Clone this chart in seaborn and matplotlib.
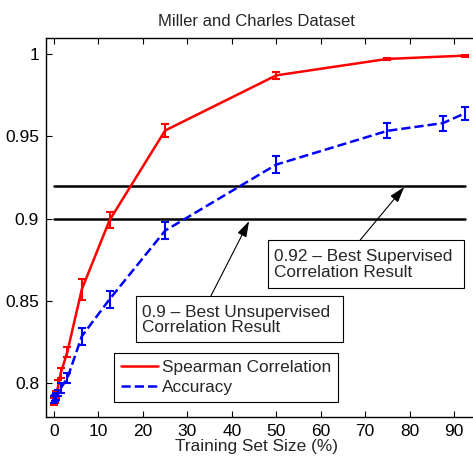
import numpy as np
import pandas as pd
import matplotlib
matplotlib.use("Agg")
import matplotlib.pyplot as plt
import seaborn as sns
from matplotlib.patches import Rectangle

# --- data ---
spear_x = [0, 0.25, 0.5, 1, 1.5, 3, 6.25, 12.5, 25, 50, 75, 92.5]
spear_y = [0.789, 0.790, 0.793, 0.799, 0.806, 0.819, 0.857, 0.899, 0.9535, 0.987, 0.997, 0.999]
spear_err = [0.002, 0.002, 0.002, 0.003, 0.003, 0.003, 0.0065, 0.005, 0.0038, 0.0022, 0.0008, 0.0006]

acc_x = [0, 0.25, 0.5, 1, 1.5, 3, 6.25, 12.5, 25, 50, 75, 87.5, 92.5]
acc_y = [0.790, 0.791, 0.792, 0.794, 0.797, 0.803, 0.8285, 0.851, 0.8927, 0.9328, 0.9533, 0.958, 0.964]
acc_err = [0.002, 0.002, 0.002, 0.002, 0.003, 0.003, 0.005, 0.005, 0.005, 0.0053, 0.0045, 0.0045, 0.004]

best_unsup = 0.90
best_sup = 0.92
ref_x_range = [0, 92.5]

x_ticks = [0, 10, 20, 30, 40, 50, 60, 70, 80, 90]
y_ticks = [0.8, 0.85, 0.9, 0.95, 1.0]
y_tick_labels = ["0.8", "0.85", "0.9", "0.95", "1"]

spear_df = pd.DataFrame({"size": spear_x, "val": spear_y})
acc_df = pd.DataFrame({"size": acc_x, "val": acc_y})

sns.set_theme(style="white")
plt.rcParams['font.family'] = ['Liberation Sans', 'DejaVu Sans']

fig = plt.figure(figsize=(4.73, 4.58), dpi=100)
ax = fig.add_axes([46 / 473, 41 / 458, 430 / 473, 379 / 458])

# lines
sns.lineplot(data=spear_df, x="size", y="val", ax=ax, color="red", lw=1.8,
             label="Spearman Correlation", errorbar=None, zorder=3)
sns.lineplot(data=acc_df, x="size", y="val", ax=ax, color="blue", lw=1.8,
             linestyle="--", dashes=(3.8, 2.2), label="Accuracy", errorbar=None, zorder=3)

# error bars
ax.errorbar(spear_x, spear_y, yerr=spear_err, fmt="none", ecolor="red",
            elinewidth=1.5, capsize=3, capthick=1.5, zorder=4)
ax.errorbar(acc_x, acc_y, yerr=acc_err, fmt="none", ecolor="blue",
            elinewidth=1.5, capsize=3, capthick=1.5, zorder=4)

# reference lines
ax.plot(ref_x_range, [best_sup, best_sup], color="black", lw=1.8, zorder=2)
ax.plot(ref_x_range, [best_unsup, best_unsup], color="black", lw=1.8, zorder=2)

ax.set_xlim(-1.8, 94.95)
ax.set_ylim(0.7795, 1.0097)

# annotation boxes (matlab style text boxes)
fs = 12.4
arrow_style = "-|>,head_length=0.8,head_width=0.25"
ax.add_patch(Rectangle((48.2, 0.858), 44.1, 0.029, fill=True, fc="white",
                       ec="black", lw=0.8, zorder=5))
ax.text(49.6, 0.8722, "0.92 – Best Supervised\nCorrelation Result", fontsize=fs,
        ha="left", va="center", linespacing=1.05, zorder=6)
ax.annotate("", xy=(78.8, 0.9192), xytext=(68.9, 0.887),
            arrowprops=dict(arrowstyle=arrow_style,
                            color="black", lw=0.8, shrinkA=0, shrinkB=0), zorder=6)

ax.add_patch(Rectangle((18.5, 0.825), 46.5, 0.028, fill=True, fc="white",
                       ec="black", lw=0.8, zorder=5))
ax.text(19.9, 0.8385, "0.9 – Best Unsupervised\nCorrelation Result", fontsize=fs,
        ha="left", va="center", linespacing=1.05, zorder=6)
ax.annotate("", xy=(43.9, 0.8985), xytext=(35.3, 0.853),
            arrowprops=dict(arrowstyle=arrow_style,
                            color="black", lw=0.8, shrinkA=0, shrinkB=0), zorder=6)

# legend
leg = ax.legend(loc="lower left", bbox_to_anchor=((114 - 46) / 430, (417 - 402) / 379),
                frameon=True, fancybox=False, edgecolor="black", framealpha=1,
                fontsize=fs, handlelength=2.15, handletextpad=0.25,
                labelspacing=0.3, borderpad=0.4, borderaxespad=0)
leg.get_frame().set_linewidth(0.8)
leg.set_zorder(7)

# axes styling
ax.set_xticks(x_ticks)
ax.set_yticks(y_ticks)
ax.set_yticklabels(y_tick_labels)
ax.tick_params(direction="in", length=4, width=0.8, labelsize=12.5,
               top=True, bottom=True, left=True, right=False, colors="black",
               pad=5)
ax.tick_params(axis="x", labeltop=False)
for side in ["left", "bottom", "top"]:
    ax.spines[side].set_color("black")
    ax.spines[side].set_linewidth(1.0)
ax.spines["right"].set_visible(False)

ax.set_xlabel("Training Set Size (%)", fontsize=fs)
ax.xaxis.set_label_coords((256 - 46) / 430, -0.058)
ax.set_ylabel("")
ax.set_title("Miller and Charles Dataset", fontsize=12, pad=9)
ax.title.set_x((256 - 46) / 430)

fig.savefig("out.png", dpi=100)
